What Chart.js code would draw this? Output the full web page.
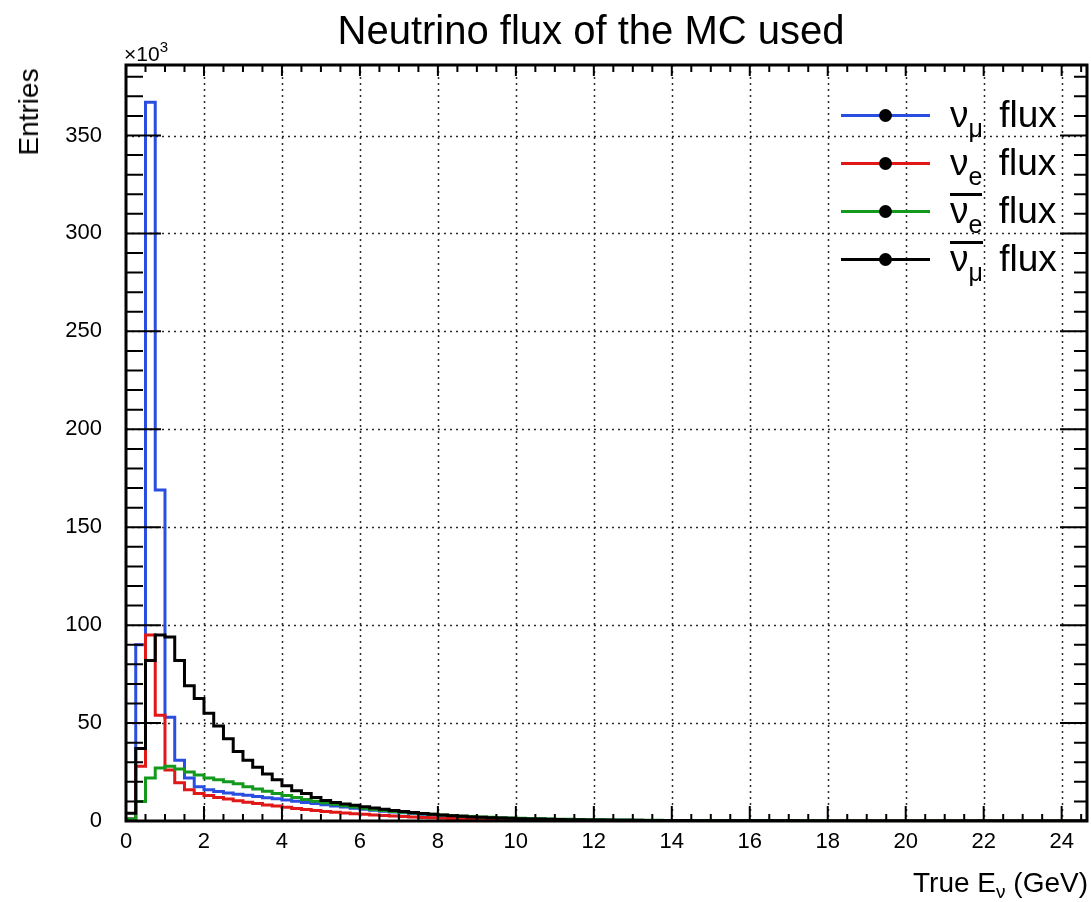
<!DOCTYPE html>
<html>
<head>
<meta charset="utf-8">
<script src="https://cdn.jsdelivr.net/npm/chart.js@4.4.0/dist/chart.umd.min.js"></script>
<style>
  body { margin: 0; background: #fff; font-family: "Liberation Sans", Arial, sans-serif; }
  #wrap { position: relative; width: 1091px; height: 902px; overflow: hidden; }
  #chart { position: absolute; left: 0; top: 0; }
  .txt { position: absolute; color: #000; white-space: nowrap; }
  #title { left: 591px; top: 10px; font-size: 40px; line-height: 40px; transform: translateX(-50%); }
  #mult { left: 124px; top: 43px; font-size: 21px; line-height: 21px; }
  #mult sup { font-size: 15px; vertical-align: 9px; line-height: 0; }
  #ytitle { left: 29px; top: 112px; font-size: 28px; line-height: 28px; transform: translate(-50%, -50%) rotate(-90deg); }
  #xtitle { right: 3px; top: 869px; font-size: 28px; line-height: 28px; }
  #xtitle sub { font-size: 19px; vertical-align: -6px; line-height: 0; }
  .row { position: absolute; left: 841px; width: 245px; height: 0; }
  .sym { position: absolute; left: 0; top: -1.5px; width: 89px; height: 3px; }
  .sym::after { content: ''; position: absolute; left: 38px; top: -5px; width: 13px; height: 13px; border-radius: 50%; background: #000; }
  .lab { position: absolute; left: 109px; top: -19px; font-size: 37px; line-height: 37px; }
  .lab .f { margin-left: 6px; }
  .lab sub { font-size: 25px; vertical-align: -10px; line-height: 0; }
  .bar { position: relative; }
  .bar::before { content: ''; position: absolute; left: 0; right: 0; top: 3px; border-top: 3px solid #000; }
</style>
</head>
<body>
<div id="wrap">
  <canvas id="chart" width="1091" height="902"></canvas>
  <div class="txt" id="title">Neutrino flux of the MC used</div>
  <div class="txt" id="mult">×10<sup>3</sup></div>
  <div class="txt" id="ytitle">Entries</div>
  <div class="txt" id="xtitle">True E<sub>ν</sub> (GeV)</div>
  <div class="row" style="top:115px"><span class="sym" style="background:#2a4fe0"></span><span class="lab">ν<sub>μ</sub> <span class="f">flux</span></span></div>
  <div class="row" style="top:163px"><span class="sym" style="background:#e01818"></span><span class="lab">ν<sub>e</sub> <span class="f">flux</span></span></div>
  <div class="row" style="top:211px"><span class="sym" style="background:#139a1c"></span><span class="lab"><span class="bar">ν<sub>e</sub></span> <span class="f">flux</span></span></div>
  <div class="row" style="top:259px"><span class="sym" style="background:#000"></span><span class="lab"><span class="bar">ν<sub>μ</sub></span> <span class="f">flux</span></span></div>
</div>
<script>
// bin width of the histograms (GeV), values in units of 10^3 entries
const binWidth = 0.25;

const numuFlux = [
  1, 90, 367, 169, 53, 31, 22, 17.5, 16, 15,
  14.3, 13.7, 13.1, 12.5, 11.9, 11.3, 10.7, 10.1, 9.5, 8.9,
  8.3, 7.7, 7.1, 6.5, 6.0, 5.5, 5.0, 4.6, 4.2, 3.8,
  3.4, 3.1, 2.8, 2.5, 2.25, 2.0, 1.8, 1.6, 1.45, 1.3,
  1.15, 1.03, 0.92, 0.82, 0.73, 0.65, 0.58, 0.52, 0.46, 0.41,
  0.37, 0.33, 0.29, 0.26, 0.23, 0.21, 0.19, 0.17, 0.15, 0.13,
  0.12, 0.11, 0.1, 0.09, 0.08, 0.07, 0.07, 0.06, 0.06, 0.05,
  0.05, 0.05, 0.04, 0.04, 0.04, 0.03, 0.03, 0.03, 0.03, 0.02,
  0.02, 0.02, 0.02, 0.02, 0.02, 0.02, 0.02, 0.01, 0.01, 0.01,
  0.01, 0.01, 0.01, 0.01, 0.01, 0.01, 0.01, 0.01, 0.01
];

const nueFlux = [
  1, 28, 95, 54, 26, 19.5, 16, 14, 13, 12,
  11.2, 10.4, 9.6, 8.9, 8.2, 7.6, 7.0, 6.4, 5.9, 5.4,
  4.9, 4.5, 4.1, 3.7, 3.4, 3.1, 2.8, 2.5, 2.25, 2.0,
  1.8, 1.6, 1.45, 1.3, 1.15, 1.03, 0.92, 0.82, 0.73, 0.65,
  0.58, 0.52, 0.46, 0.41, 0.37, 0.33, 0.29, 0.26, 0.23, 0.21,
  0.19, 0.17, 0.15, 0.13, 0.12, 0.11, 0.1, 0.09, 0.08, 0.07,
  0.06, 0.06, 0.05, 0.05, 0.04, 0.04, 0.04, 0.03, 0.03, 0.03,
  0.03, 0.02, 0.02, 0.02, 0.02, 0.02, 0.02, 0.02, 0.02, 0.02,
  0.02, 0.02, 0.02, 0.02, 0.02, 0.01, 0.01, 0.01, 0.01, 0.01,
  0.01, 0.01, 0.01, 0.01, 0.01, 0.01, 0.01, 0.01, 0.01
];

const nuebarFlux = [
  1, 10, 22, 27, 28, 26.5, 25, 23.5, 22, 21,
  20, 19, 17.5, 16.3, 15.2, 14.1, 13, 12, 11, 10.1,
  9.3, 8.5, 7.8, 7.1, 6.5, 5.9, 5.4, 4.9, 4.5, 4.1,
  3.7, 3.4, 3.1, 2.8, 2.5, 2.3, 2.1, 1.9, 1.7, 1.55,
  1.4, 1.27, 1.15, 1.04, 0.94, 0.85, 0.77, 0.7, 0.63, 0.57,
  0.52, 0.47, 0.42, 0.38, 0.34, 0.31, 0.28, 0.25, 0.23, 0.21,
  0.19, 0.17, 0.15, 0.14, 0.13, 0.12, 0.11, 0.1, 0.09, 0.08,
  0.07, 0.07, 0.06, 0.06, 0.05, 0.05, 0.05, 0.04, 0.04, 0.04,
  0.03, 0.03, 0.03, 0.03, 0.03, 0.03, 0.02, 0.02, 0.02, 0.02,
  0.02, 0.02, 0.02, 0.02, 0.02, 0.01, 0.01, 0.01, 0.01
];

const numubarFlux = [
  4, 37, 82, 95, 94, 82, 69, 62.5, 55, 48.5,
  42, 35.5, 31, 27.5, 24, 21, 18, 15.5, 14, 12,
  10.5, 9.5, 8.7, 8.0, 7.3, 6.6, 6.0, 5.4, 4.8, 4.3,
  3.8, 3.4, 3.0, 2.7, 2.4, 2.1, 1.9, 1.7, 1.5, 1.35,
  1.2, 1.08, 0.97, 0.87, 0.78, 0.7, 0.63, 0.57, 0.51, 0.46,
  0.41, 0.37, 0.33, 0.3, 0.27, 0.24, 0.22, 0.2, 0.18, 0.16,
  0.14, 0.13, 0.12, 0.11, 0.1, 0.09, 0.08, 0.07, 0.07, 0.06,
  0.06, 0.05, 0.05, 0.05, 0.04, 0.04, 0.04, 0.03, 0.03, 0.03,
  0.03, 0.03, 0.02, 0.02, 0.02, 0.02, 0.02, 0.02, 0.02, 0.02,
  0.02, 0.02, 0.02, 0.02, 0.01, 0.01, 0.01, 0.01, 0.01
];

const xMax = 24.65;
const yMax = 386;
const xMajor = 2, xMinor = 0.5;
const yMajor = 50, yMinor = 10;

// histogram outline: one point per low bin edge + closing edge
function toSteps(values) {
  const pts = values.map((v, i) => ({ x: i * binWidth, y: v }));
  pts.push({ x: values.length * binWidth, y: values[values.length - 1] });
  return pts;
}

function histo(values, color, order) {
  return {
    data: toSteps(values),
    borderColor: color,
    borderWidth: 3,
    stepped: 'before',
    pointRadius: 0,
    fill: false,
    order: order
  };
}

// ROOT style frame: dotted grid, inside ticks on all four sides
const rootFrame = {
  id: 'rootFrame',
  beforeDatasetsDraw(chart) {
    const { ctx, chartArea: a, scales: { x, y } } = chart;
    ctx.save();
    ctx.strokeStyle = '#2a2a2a';
    ctx.lineWidth = 1.5;
    ctx.setLineDash([2, 4]);
    ctx.beginPath();
    x.ticks.forEach(t => {
      if (t.value <= 0) return;
      const px = Math.round(x.getPixelForValue(t.value)) + 0.5;
      ctx.moveTo(px, a.top); ctx.lineTo(px, a.bottom);
    });
    y.ticks.forEach(t => {
      if (t.value <= 0) return;
      const py = Math.round(y.getPixelForValue(t.value)) + 0.5;
      ctx.moveTo(a.left, py); ctx.lineTo(a.right, py);
    });
    ctx.stroke();
    ctx.restore();
  },
  afterDatasetsDraw(chart) {
    const { ctx, chartArea: a, scales: { x, y } } = chart;
    ctx.save();
    ctx.strokeStyle = '#000';
    ctx.lineWidth = 2;
    ctx.beginPath();
    for (let i = 0; i * xMinor <= xMax; i++) {
      const v = i * xMinor;
      const major = i % (xMajor / xMinor) === 0;
      const px = x.getPixelForValue(v);
      ctx.moveTo(px, a.bottom); ctx.lineTo(px, a.bottom - (major ? 15 : 7));
      ctx.moveTo(px, a.top); ctx.lineTo(px, a.top + (major ? 11 : 7));
    }
    for (let i = 0; i * yMinor <= yMax; i++) {
      const v = i * yMinor;
      const major = i % (yMajor / yMinor) === 0;
      const py = y.getPixelForValue(v);
      ctx.moveTo(a.left, py); ctx.lineTo(a.left + (major ? 35 : 17), py);
      ctx.moveTo(a.right, py); ctx.lineTo(a.right - (major ? 27 : 13), py);
    }
    ctx.stroke();
    ctx.lineWidth = 3;
    ctx.strokeRect(a.left, a.top, a.right - a.left, a.bottom - a.top);
    ctx.restore();
  }
};

const tickFont = { family: '"Liberation Sans", Arial, sans-serif', size: 22 };

new Chart(document.getElementById('chart'), {
  type: 'line',
  data: {
    datasets: [
      histo(numuFlux, '#2a4fe0', 3),
      histo(nueFlux, '#e01818', 2),
      histo(nuebarFlux, '#139a1c', 1),
      histo(numubarFlux, '#000000', 0)
    ]
  },
  options: {
    responsive: false,
    animation: false,
    devicePixelRatio: 1,
    layout: { padding: { top: 65, right: 4, left: 0, bottom: 0 } },
    plugins: { legend: { display: false }, title: { display: false }, tooltip: { enabled: false } },
    scales: {
      x: {
        type: 'linear',
        min: 0,
        max: xMax,
        grid: { display: false, drawTicks: false },
        border: { display: false },
        ticks: { stepSize: xMajor, includeBounds: false, autoSkip: false, maxRotation: 0, padding: 8, color: '#000', font: tickFont },
        afterFit: s => { s.height = 81; }
      },
      y: {
        min: 0,
        max: yMax,
        grid: { display: false, drawTicks: false },
        border: { display: false },
        ticks: { stepSize: yMajor, includeBounds: false, padding: 24, color: '#000', font: tickFont },
        afterFit: s => { s.width = 126; }
      }
    }
  },
  plugins: [rootFrame]
});
</script>
</body>
</html>
